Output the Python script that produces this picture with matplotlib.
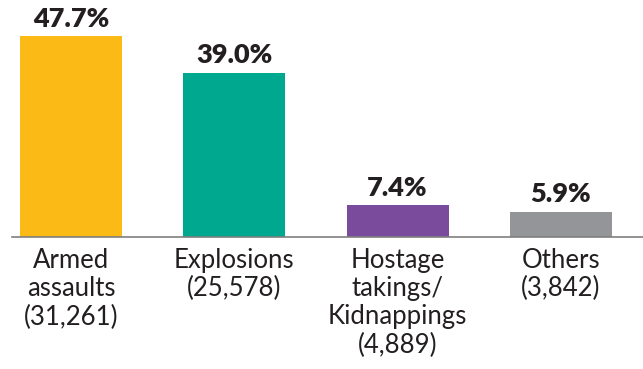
import matplotlib
matplotlib.use("Agg")
import matplotlib.pyplot as plt

categories = ["Armed\nassaults", "Explosions", "Hostage\ntakings/\nKidnappings", "Others"]
counts = [31261, 25578, 4889, 3842]
shares = [47.7, 39.0, 7.4, 5.9]
colors = ["#FBBA16", "#00A88F", "#7A4B9C", "#939598"]

text_color = "#231F20"

fig = plt.figure(figsize=(6.43, 3.69), dpi=100)
W, H = 643, 369
ax = fig.add_axes([12 / W, (H - 236.5) / H, 631 / W, 236.5 / H])

x = list(range(len(categories)))
ax.bar(x, shares, width=0.625, color=colors, zorder=2)

ax.set_xlim(-0.361, 3.503)
ax.set_ylim(0, 47.7 * 236.5 / 200)

for xi, v in zip(x, shares):
    ax.annotate(f"{v:.1f}%", (xi, v), xytext=(0, 4), textcoords="offset points",
                ha="center", va="bottom", fontsize=19.5, fontweight="heavy",
                family="Lato", color=text_color)

labels = [f"{c}\n({n:,})" for c, n in zip(categories, counts)]
ax.set_xticks(x)
ax.set_xticklabels(labels, fontsize=18.5, family="Lato", fontweight="normal",
                   color=text_color, linespacing=1.17)
ax.tick_params(axis="x", length=0, pad=8)
ax.set_yticks([])

for s in ["top", "right", "left"]:
    ax.spines[s].set_visible(False)
ax.spines["bottom"].set_color("#7F7F7F")
ax.spines["bottom"].set_linewidth(1.2)

fig.savefig("out.png", dpi=100)
